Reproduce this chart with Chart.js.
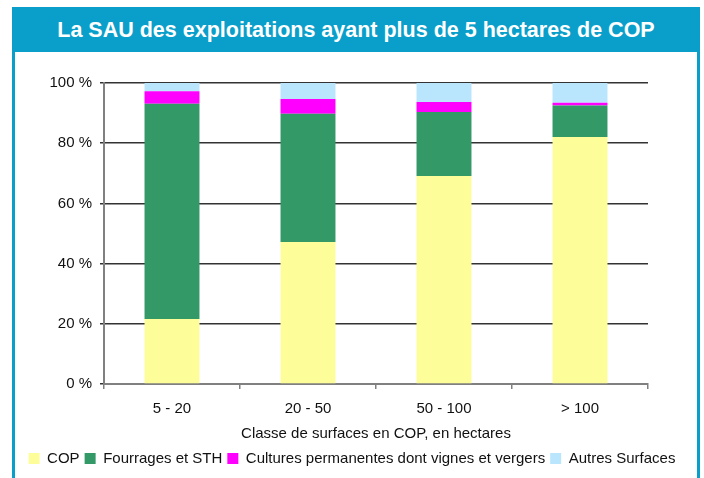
<!DOCTYPE html>
<html lang="fr">
<head>
    <meta charset="UTF-8">
    <title>La SAU des exploitations ayant plus de 5 hectares de COP</title>
    <style>
        body {
            margin: 0;
            width: 704px;
            height: 478px;
            overflow: hidden;
            background: #fff;
            font-family: 'Liberation Sans', Arial, sans-serif;
            position: relative;
        }

        .frame {
            position: absolute;
            left: 12px;
            top: 7px;
            width: 682px;
            height: 500px;
            border: 3px solid #099fca;
            border-top: none;
            background: #fff;
        }

        .title {
            position: absolute;
            left: 12px;
            top: 7px;
            width: 688px;
            height: 45px;
            background: #099fca;
            color: #fff;
            font-weight: bold;
            font-size: 21.5px;
            line-height: 46px;
            text-align: center;
            z-index: 2;
        }

        #chart {
            position: absolute;
            left: 0;
            top: 0;
            z-index: 1;
        }
    </style>
</head>
<body>
    <div class="frame"></div>
    <div class="title">La SAU des exploitations ayant plus de 5 hectares de COP</div>
    <canvas id="chart" width="704" height="478"></canvas>

    <script src="https://cdn.jsdelivr.net/npm/chart.js"></script>
    <script>
        // values (% of SAU)
        const categories = ['5 - 20', '20 - 50', '50 - 100', '> 100'];
        const cop = [21.6, 47.2, 69.1, 82.1];
        const fourrages = [71.5, 42.6, 21.3, 10.4];
        const cultures = [4.2, 4.9, 3.3, 0.9];
        const autres = [2.7, 5.3, 6.3, 6.6];
        const yTicks = [0, 20, 40, 60, 80, 100];

        const font = { family: "'Liberation Sans', Arial, sans-serif", size: 15 };

        const ctx = document.getElementById('chart').getContext('2d');
        new Chart(ctx, {
            type: 'bar',
            data: {
                labels: categories,
                datasets: [
                    { label: 'COP', data: cop, backgroundColor: '#fdfd99' },
                    { label: 'Fourrages et STH', data: fourrages, backgroundColor: '#339966' },
                    { label: 'Cultures permanentes dont vignes et vergers', data: cultures, backgroundColor: '#ff00ff' },
                    { label: 'Autres Surfaces', data: autres, backgroundColor: '#bae6fd' }
                ]
            },
            options: {
                responsive: false,
                animation: false,
                events: [],
                datasets: {
                    bar: { categoryPercentage: 1, barPercentage: 0.404, borderWidth: 0 }
                },
                layout: { padding: { left: 0, right: 0, top: 83, bottom: 2 } },
                scales: {
                    x: {
                        stacked: true,
                        grid: { offset: true, drawOnChartArea: false, tickLength: 5, color: '#808080', lineWidth: 1.5 },
                        border: { color: '#808080', width: 2 },
                        ticks: { color: '#111', font: font, padding: 11 },
                        title: { display: true, text: 'Classe de surfaces en COP, en hectares', color: '#111', font: font, padding: { top: 4, bottom: 3 } },
                        afterFit: (s) => { s.height = 62; }
                    },
                    y: {
                        stacked: true,
                        min: 0,
                        max: 100,
                        afterBuildTicks: (s) => { s.ticks = yTicks.map(v => ({ value: v })); },
                        grid: { color: '#333', lineWidth: 1.5, tickLength: 4 },
                        border: { color: '#808080', width: 2 },
                        ticks: { color: '#111', font: font, padding: 8, callback: (v) => v + ' %' },
                        afterFit: (s) => { s.width = 104; }
                    },
                    // empty right-hand axis, only keeps the margin right of the plot
                    yRight: {
                        position: 'right',
                        grid: { display: false },
                        border: { display: false },
                        ticks: { display: false },
                        afterFit: (s) => { s.width = 56; }
                    }
                },
                plugins: {
                    legend: {
                        position: 'bottom',
                        labels: { color: '#111', font: font, boxWidth: 11, boxHeight: 11, padding: 5 }
                    },
                    tooltip: { enabled: false }
                }
            }
        });
    </script>
</body>
</html>
